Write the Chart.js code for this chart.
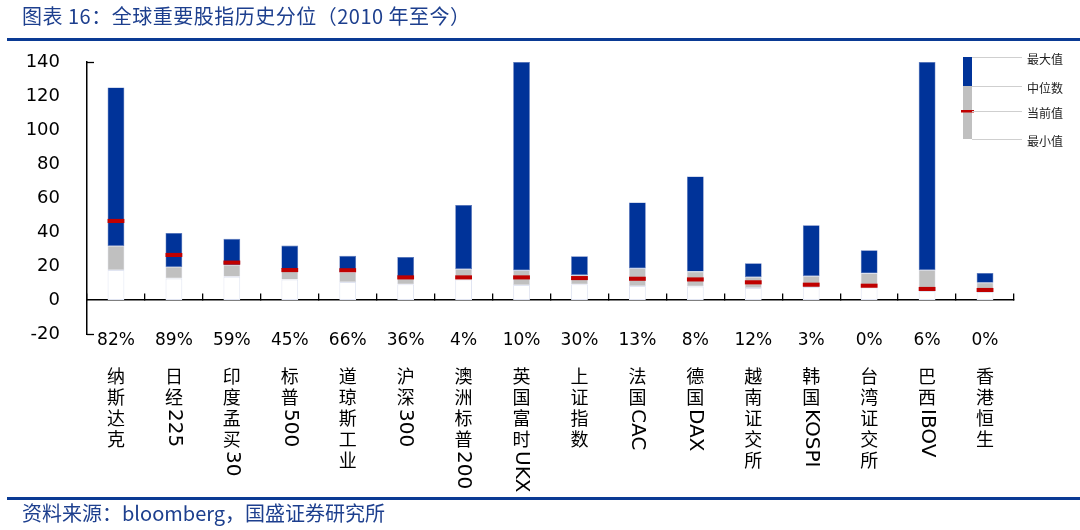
<!DOCTYPE html>
<html>
<head>
<meta charset="utf-8">
<script src="https://cdn.jsdelivr.net/npm/chart.js@4/dist/chart.umd.min.js"></script>
<style>
  html, body { margin: 0; padding: 0; background: #fff; }
  #wrap { position: relative; width: 1080px; height: 530px; overflow: hidden; }
  #chart { position: absolute; left: 0; top: 0; }
  .title { position: absolute; left: 22px; top: 1px; font: 20px "Noto Sans CJK SC", sans-serif; color: #1d3f8e; white-space: nowrap; letter-spacing: 0.5px; }
  .rule { position: absolute; left: 7px; right: 0; height: 3px; background: #0a3a94; }
  .source { position: absolute; left: 22px; top: 498px; font: 20px "Noto Sans CJK SC", sans-serif; color: #1d3f8e; white-space: nowrap; }
</style>
</head>
<body>
<div id="wrap">
  <canvas id="chart" width="1080" height="530"></canvas>
  <div class="title">图表 16：全球重要股指历史分位（2010 年至今）</div>
  <div class="rule" style="top:38px"></div>
  <div class="rule" style="top:497px"></div>
  <div class="source">资料来源：bloomberg，国盛证券研究所</div>
</div>
<script>
// 指数名称 & 当前分位
const indexNames = ["纳斯达克", "日经225", "印度孟买30", "标普500", "道琼斯工业", "沪深300", "澳洲标普200", "英国富时UKX",
    "上证指数", "法国CAC", "德国DAX", "越南证交所", "韩国KOSPI", "台湾证交所", "巴西IBOV", "香港恒生"];
const pctLabels = ["82%", "89%", "59%", "45%", "66%", "36%", "4%", "10%", "30%", "13%", "8%", "12%", "3%", "0%", "6%", "0%"];

// 估值
const minVals = [17.6, 12.7, 13.7, 12.0, 10.6, 9.2, 12.0, 8.8, 9.2, 8.2, 8.0, 7.1, 7.6, 7.3, 5.3, 4.7];
const medianVals = [31.8, 19.4, 20.6, 17.9, 16.3, 13.8, 18.2, 17.4, 14.7, 18.6, 16.7, 13.5, 14.1, 15.7, 17.6, 10.2];
const maxVals = [125, 39.4, 36, 32, 26, 25.3, 55.9, 140, 25.7, 57.4, 72.7, 21.6, 44, 29.2, 140, 15.9];
const currentVals = [46.5, 26.5, 22.0, 17.6, 17.5, 13.3, 13.3, 13.3, 12.9, 12.5, 12.1, 10.4, 9.0, 8.4, 6.5, 5.9];

const yTicks = { min: -20, max: 140, step: 20 };
const legendLabels = ["最大值", "中位数", "当前值", "最小值"];

const BLUE = "#003399", GREY = "#c0c0c0", RED = "#c00000";

// 竖排的类别名称 + 右上角图例
const extras = {
    id: "extras",
    afterDraw(chart) {
        const { ctx, scales: { x, y } } = chart;
        ctx.save();
        ctx.fillStyle = "#000";
        indexNames.forEach((name, i) => {
            const cx = x.getPixelForValue(i);
            let ty = 367;
            const runs = name.match(/[A-Za-z0-9]+|[^A-Za-z0-9]/g);
            runs.forEach(r => {
                if (/^[A-Za-z0-9]+$/.test(r)) {
                    ctx.font = '20px "DejaVu Sans"';
                    const w = ctx.measureText(r).width;
                    ctx.save();
                    ctx.translate(cx, ty);
                    ctx.rotate(Math.PI / 2);
                    ctx.textAlign = "left";
                    ctx.textBaseline = "middle";
                    ctx.fillText(r, 0, 0);
                    ctx.restore();
                    ty += w + 4;
                } else {
                    ctx.font = '18px "Noto Sans CJK SC"';
                    ctx.textAlign = "center";
                    ctx.textBaseline = "top";
                    ctx.fillText(r, cx, ty);
                    ty += 21;
                }
            });
        });

        // y 轴两端的小刻度
        ctx.strokeStyle = "#000";
        ctx.lineWidth = 1.3;
        [yTicks.max, yTicks.min].forEach(v => {
            const py = Math.round(y.getPixelForValue(v)) + 0.5;
            ctx.beginPath();
            ctx.moveTo(x.left, py);
            ctx.lineTo(x.left + 7, py);
            ctx.stroke();
        });

        // 图例
        const lx = 963, lw = 9;
        const ys = [57, 86, 111, 139];
        ctx.fillStyle = BLUE;
        ctx.fillRect(lx, ys[0], lw, ys[1] - ys[0]);
        ctx.fillStyle = GREY;
        ctx.fillRect(lx, ys[1], lw, ys[3] - ys[1]);
        ctx.fillStyle = RED;
        ctx.fillRect(lx - 2, ys[2] - 1, lw + 4, 2.5);
        ctx.strokeStyle = "#cfcfcf";
        ctx.lineWidth = 1;
        ys.forEach(v => {
            ctx.beginPath();
            ctx.moveTo(lx + lw, v + 0.5);
            ctx.lineTo(1022, v + 0.5);
            ctx.stroke();
        });
        ctx.fillStyle = "#222";
        ctx.font = '12px "Noto Sans CJK SC"';
        ctx.textAlign = "left";
        ctx.textBaseline = "middle";
        legendLabels.forEach((t, i) => ctx.fillText(t, 1027, ys[i] + 2));
        ctx.restore();
    }
};

const ctx = document.getElementById("chart").getContext("2d");
const barOpts = { grouped: false, barPercentage: 0.29, categoryPercentage: 1, borderSkipped: false };

new Chart(ctx, {
    type: "bar",
    data: {
        labels: pctLabels,
        datasets: [
            { ...barOpts, label: "当前值", order: 0, backgroundColor: RED,
              data: currentVals.map(v => [v - 1.2, v + 1.2]) },
            { ...barOpts, label: "最大值", order: 1, backgroundColor: BLUE, borderColor: "#5a74b8", borderWidth: 0.6,
              data: medianVals.map((v, i) => [v, maxVals[i]]) },
            { ...barOpts, label: "中位数", order: 2, backgroundColor: GREY, borderColor: "#d4d7e4", borderWidth: 0.6,
              data: minVals.map((v, i) => [v, medianVals[i]]) },
            { ...barOpts, label: "最小值", order: 3, backgroundColor: "#ffffff", borderColor: "#e1e5f2", borderWidth: 1,
              data: minVals.map(v => [0, v]) }
        ]
    },
    options: {
        responsive: false,
        animation: false,
        layout: { padding: { top: 62, right: 66, bottom: 196, left: 0 } },
        plugins: { legend: { display: false }, tooltip: { enabled: false } },
        scales: {
            x: {
                position: { y: 0 },
                offset: true,
                grid: { display: true, drawOnChartArea: false, drawTicks: true, tickLength: -7, color: "#000", lineWidth: 1.3, offset: true },
                border: { color: "#000", width: 1.5 },
                ticks: { color: "#000", font: { family: "DejaVu Sans", size: 17 }, padding: 37, maxRotation: 0, autoSkip: false }
            },
            y: {
                min: yTicks.min,
                max: yTicks.max,
                afterFit: s => { s.width = 87; },
                grid: { display: false, drawTicks: false },
                border: { color: "#000", width: 1.5 },
                ticks: { stepSize: yTicks.step, color: "#000", font: { family: "DejaVu Sans", size: 18 }, padding: 27 }
            }
        }
    },
    plugins: [extras]
});
</script>
</body>
</html>
